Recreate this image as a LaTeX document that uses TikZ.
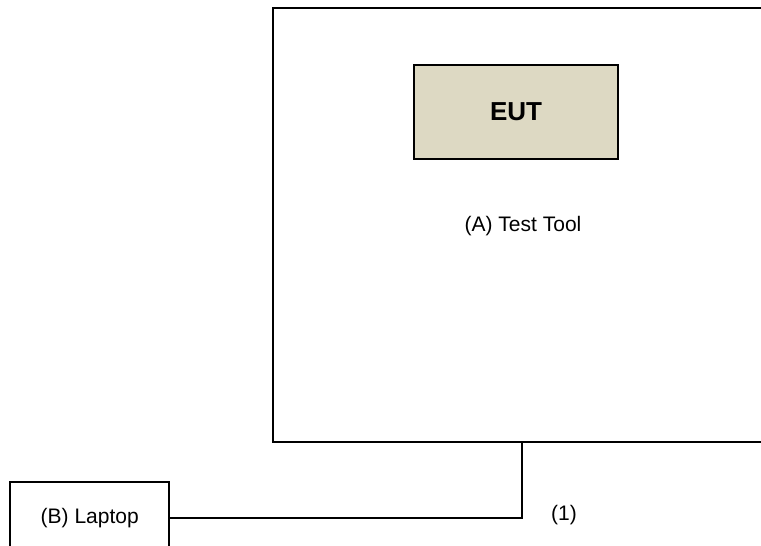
\documentclass[tikz,border=0pt]{standalone}
\usepackage{fontspec}
\setmainfont{Liberation Sans}
\usepackage{tikz}
\usetikzlibrary{positioning}
\definecolor{eutfill}{HTML}{DDD9C3}

\begin{document}
\begin{tikzpicture}[x=0.75pt,y=-0.75pt,line width=1.5pt,
		box/.style={draw,inner sep=0pt,font=\fontsize{15.75}{19}\selectfont},
		txt/.style={inner sep=0pt,font=\fontsize{15.75}{19}\selectfont}]
		\useasboundingbox (0,0) rectangle (761,546);
		\node[box,minimum width=373.5pt,minimum height=325.5pt] (tool) at (522,225) {};
		\node[box,fill=eutfill,minimum width=153pt,minimum height=70.5pt,font=\fontsize{19.5}{23}\selectfont\bfseries] (eut) at (516,112) {EUT};
		\node[txt] (toollbl) at (523,226) {(A) Test Tool};
		\node[box,minimum width=118.9pt,minimum height=54pt] (laptop) at (89.75,518) {(B) Laptop};
		\node[txt] (cbl) at (564,515) {(1)};
	
		\draw (tool.south) |- (laptop.east);
		\end{tikzpicture}
\end{document}
